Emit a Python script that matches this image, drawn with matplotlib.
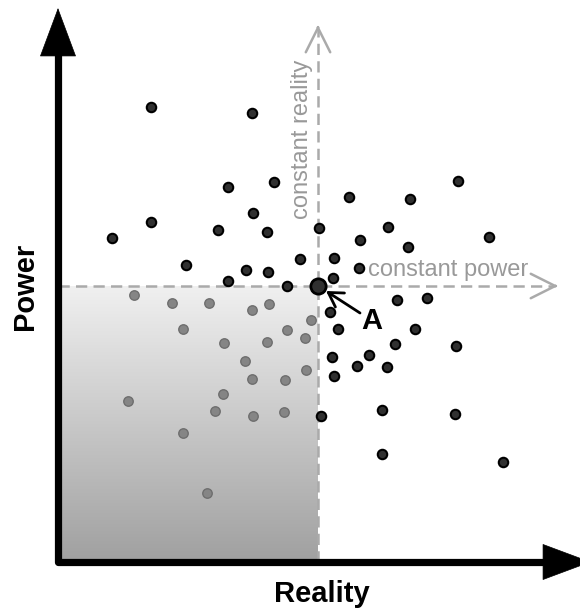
import numpy as np
import matplotlib
matplotlib.use("Agg")
import matplotlib.pyplot as plt
from matplotlib.colors import LinearSegmentedColormap

plt.rcParams['font.family'] = ['Liberation Sans', 'DejaVu Sans']

# reality / power values (arbitrary units, origin at the axes corner)
black_reality = [93, 194, 170, 216, 195, 93, 54, 160, 209, 128, 188, 210, 170, 229, 242,
                 400, 291, 352, 261, 330, 302, 350, 431, 276, 301, 275, 339, 369,
                 272, 280, 357, 337, 398, 274, 311, 299, 329, 276, 324, 397, 263, 324, 445]
black_power = [455, 449, 375, 380, 349, 340, 324, 332, 330, 297, 292, 290, 281, 276, 303,
               381, 365, 363, 334, 335, 322, 315, 325, 304, 294, 284, 262, 264,
               250, 233, 233, 218, 216, 205, 207, 196, 195, 186, 152, 148, 146, 108, 100]

gray_reality = [76, 114, 151, 194, 211, 125, 229, 166, 209, 187, 194, 227, 70, 165, 157,
                195, 226, 125, 149, 253, 247, 248]
gray_power = [267, 259, 259, 252, 258, 233, 232, 219, 220, 201, 183, 182, 161, 168, 151,
              146, 150, 129, 69, 242, 224, 192]

point_a = (260, 276)
reality_max = 533
power_max = 554
const_power_end = 500
const_reality_end = 537

fig = plt.figure(figsize=(5.8, 6.1), dpi=100)
ax = fig.add_axes([0, 0, 1, 1])
ax.set_xlim(-58, 522)
ax.set_ylim(-48, 562)
ax.axis('off')

# gradient box below/left of A
grad = np.linspace(0, 1, 256).reshape(-1, 1)
cmap = LinearSegmentedColormap.from_list('g', ['#a0a0a0', '#f0f0f0'])
ax.imshow(grad, cmap=cmap, origin='lower', aspect='auto',
          extent=[0, point_a[0], 0, point_a[1]], zorder=1)

# dashed guide lines
dash_kw = dict(color='#aaaaaa', lw=1.8, linestyle=(0, (4.5, 2.5)), zorder=2)
ax.plot([0, const_power_end - 4], [point_a[1], point_a[1]], **dash_kw)
ax.plot([point_a[0], point_a[0]], [0, const_reality_end - 4], **dash_kw)
chev = dict(arrowstyle='->,head_length=0.88,head_width=0.44', color='#aaaaaa',
            lw=1.8, mutation_scale=20, shrinkA=0, shrinkB=0)
ax.annotate('', xy=(const_power_end, point_a[1]), xytext=(const_power_end - 3, point_a[1]),
            arrowprops=chev, zorder=2)
ax.annotate('', xy=(point_a[0], const_reality_end), xytext=(point_a[0], const_reality_end - 3),
            arrowprops=chev, zorder=2)

ax.text(310, point_a[1] + 16, 'constant power', fontsize=17, color='#999999',
        ha='left', va='center')
ax.text(point_a[0] - 16, 423, 'constant reality', fontsize=17, color='#999999',
        ha='center', va='center', rotation=90)

# main axes
ax.plot([0, 0, reality_max - 40], [power_max - 40, 0, 0], color='black', lw=5.2,
        solid_joinstyle='round', solid_capstyle='round', zorder=4)
head = dict(arrowstyle='-|>,head_length=1.69,head_width=0.63', color='black',
            lw=0.5, mutation_scale=20, shrinkA=0, shrinkB=0)
ax.annotate('', xy=(0, power_max), xytext=(0, power_max - 45), arrowprops=head,
            zorder=4, annotation_clip=False)
ax.annotate('', xy=(reality_max, 0), xytext=(reality_max - 45, 0), arrowprops=head,
            zorder=4, annotation_clip=False)

# points
ax.plot(gray_reality, gray_power, 'o', ms=6.8, mfc='#858585', mec='#6e6e6e', mew=1.0, zorder=3)
ax.plot(black_reality, black_power, 'o', ms=6.8, mfc='#303030', mec='black', mew=1.5, zorder=3)
ax.plot([point_a[0]], [point_a[1]], 'o', ms=11, mfc='#303030', mec='black', mew=2, zorder=5)

# label A
ax.annotate('', xy=(point_a[0] + 8, point_a[1] - 5), xytext=(302, 249),
            arrowprops=dict(arrowstyle='->,head_length=0.5,head_width=0.3', color='black',
                            lw=2.0, mutation_scale=20, shrinkA=0, shrinkB=0), zorder=5)
ax.text(314, 241, 'A', fontsize=21, fontweight='bold', ha='center', va='center')

ax.text(264, -32, 'Reality', fontsize=21, fontweight='bold', ha='center', va='center')
ax.text(-33, 276, 'Power', fontsize=21, fontweight='bold', ha='center', va='center',
        rotation=90)

fig.savefig('out.png', dpi=100)
